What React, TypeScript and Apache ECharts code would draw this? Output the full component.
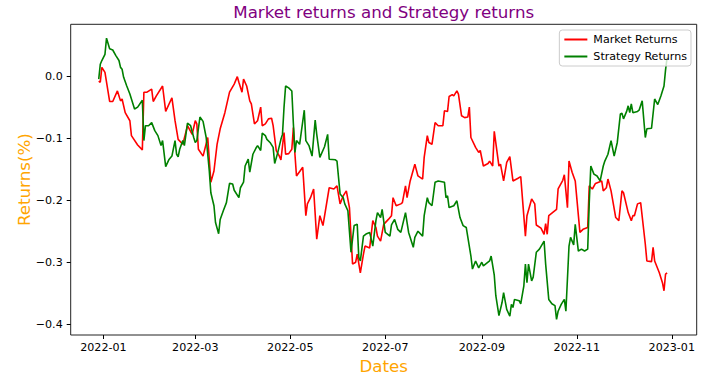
import React, { useEffect, useRef } from "react";
import * as echarts from "echarts";

const FONT = "DejaVu Sans";

const marketDates = [
  "2021-12-29","2021-12-30","2021-12-31","2022-01-02","2022-01-05","2022-01-07","2022-01-10","2022-01-12","2022-01-13","2022-01-15",
  "2022-01-18","2022-01-19","2022-01-23","2022-01-26","2022-01-27","2022-01-29","2022-02-01","2022-02-02","2022-02-04","2022-02-08",
  "2022-02-10","2022-02-14","2022-02-16","2022-02-18","2022-02-21","2022-02-24","2022-02-27","2022-03-01","2022-03-02","2022-03-03",
  "2022-03-06","2022-03-09","2022-03-11","2022-03-13","2022-03-15","2022-03-17","2022-03-20","2022-03-23","2022-03-26","2022-03-28",
  "2022-03-29","2022-03-31","2022-04-01","2022-04-03","2022-04-05","2022-04-06","2022-04-08","2022-04-10","2022-04-12","2022-04-13",
  "2022-04-15","2022-04-17","2022-04-19","2022-04-20","2022-04-22","2022-04-24","2022-04-25","2022-04-27","2022-04-28","2022-04-30",
  "2022-05-02","2022-05-03","2022-05-04","2022-05-05","2022-05-09","2022-05-11","2022-05-12","2022-05-14","2022-05-16","2022-05-18",
  "2022-05-20","2022-05-22","2022-05-26","2022-05-29","2022-05-31","2022-06-02","2022-06-04","2022-06-06","2022-06-08","2022-06-10",
  "2022-06-12","2022-06-13","2022-06-15","2022-06-17","2022-06-18","2022-06-21","2022-06-23","2022-06-25","2022-06-26","2022-06-28",
  "2022-06-30","2022-07-03","2022-07-05","2022-07-06","2022-07-08","2022-07-11","2022-07-12","2022-07-14","2022-07-15","2022-07-17",
  "2022-07-20","2022-07-22","2022-07-25","2022-07-26","2022-07-28","2022-07-29","2022-07-31","2022-08-02","2022-08-04","2022-08-07",
  "2022-08-08","2022-08-10","2022-08-11","2022-08-13","2022-08-14","2022-08-16","2022-08-17","2022-08-19","2022-08-21","2022-08-23",
  "2022-08-24","2022-08-25","2022-08-28","2022-08-30","2022-08-31","2022-09-02","2022-09-05","2022-09-06","2022-09-08","2022-09-09",
  "2022-09-12","2022-09-13","2022-09-15","2022-09-17","2022-09-19","2022-09-21","2022-09-24","2022-09-26","2022-09-29","2022-09-30",
  "2022-10-03","2022-10-05","2022-10-06","2022-10-09","2022-10-11","2022-10-12","2022-10-13","2022-10-14","2022-10-18","2022-10-19",
  "2022-10-20","2022-10-23","2022-10-24","2022-10-26","2022-10-27","2022-10-29","2022-10-31","2022-11-03","2022-11-05","2022-11-08",
  "2022-11-09","2022-11-11","2022-11-13","2022-11-15","2022-11-17","2022-11-18","2022-11-20","2022-11-21","2022-11-23","2022-11-26",
  "2022-11-28","2022-11-30","2022-12-01","2022-12-04","2022-12-06","2022-12-07","2022-12-08","2022-12-10","2022-12-12","2022-12-15",
  "2022-12-16","2022-12-19","2022-12-20","2022-12-21","2022-12-24","2022-12-26","2022-12-27","2022-12-28","2022-12-29",
];
const marketValues = [
  -0.008,-0.010,0.014,0.006,-0.041,-0.041,-0.024,-0.040,-0.037,-0.059,
  -0.072,-0.096,-0.111,-0.119,-0.026,-0.026,-0.021,-0.041,-0.032,-0.016,
  -0.057,-0.035,-0.072,-0.102,-0.110,-0.080,-0.094,-0.072,-0.077,-0.118,
  -0.129,-0.099,-0.171,-0.153,-0.110,-0.085,-0.059,-0.026,-0.013,-0.001,
  -0.010,-0.026,-0.005,-0.016,-0.040,-0.045,-0.077,-0.072,-0.050,-0.080,
  -0.077,-0.069,-0.068,-0.080,-0.120,-0.129,-0.135,-0.091,-0.126,-0.125,
  -0.118,-0.083,-0.126,-0.161,-0.147,-0.225,-0.206,-0.196,-0.182,-0.263,
  -0.225,-0.241,-0.180,-0.182,-0.177,-0.206,-0.193,-0.185,-0.212,-0.303,
  -0.300,-0.287,-0.317,-0.287,-0.274,-0.277,-0.233,-0.244,-0.258,-0.266,
  -0.239,-0.231,-0.225,-0.196,-0.209,-0.206,-0.204,-0.177,-0.196,-0.169,
  -0.142,-0.161,-0.166,-0.131,-0.096,-0.107,-0.110,-0.075,-0.080,-0.080,
  -0.056,-0.057,-0.033,-0.030,-0.032,-0.024,-0.029,-0.064,-0.067,-0.066,
  -0.050,-0.099,-0.115,-0.123,-0.120,-0.145,-0.141,-0.137,-0.145,-0.089,
  -0.145,-0.142,-0.169,-0.139,-0.130,-0.169,-0.165,-0.162,-0.258,-0.225,
  -0.198,-0.206,-0.240,-0.245,-0.255,-0.238,-0.255,-0.225,-0.217,-0.215,
  -0.182,-0.168,-0.159,-0.212,-0.137,-0.155,-0.169,-0.252,-0.247,-0.244,
  -0.177,-0.182,-0.173,-0.171,-0.169,-0.185,-0.180,-0.166,-0.185,-0.228,
  -0.233,-0.185,-0.188,-0.220,-0.233,-0.225,-0.225,-0.206,-0.204,-0.271,
  -0.298,-0.299,-0.276,-0.298,-0.317,-0.333,-0.346,-0.319,-0.317,
];

const strategyDates = [
  "2021-12-29","2021-12-30","2021-12-31","2022-01-02","2022-01-03","2022-01-05","2022-01-07","2022-01-09","2022-01-11","2022-01-12",
  "2022-01-13","2022-01-14","2022-01-16","2022-01-18","2022-01-21","2022-01-23","2022-01-26","2022-01-27","2022-01-28","2022-01-30",
  "2022-02-01","2022-02-03","2022-02-05","2022-02-07","2022-02-08","2022-02-10","2022-02-12","2022-02-14","2022-02-16","2022-02-17",
  "2022-02-18","2022-02-19","2022-02-21","2022-02-22","2022-02-24","2022-02-26","2022-02-28","2022-03-01","2022-03-02","2022-03-04",
  "2022-03-06","2022-03-08","2022-03-10","2022-03-11","2022-03-13","2022-03-14","2022-03-16","2022-03-17","2022-03-19","2022-03-21",
  "2022-03-23","2022-03-25","2022-03-26","2022-03-29","2022-03-30","2022-04-01","2022-04-02","2022-04-04","2022-04-05","2022-04-07",
  "2022-04-09","2022-04-10","2022-04-12","2022-04-13","2022-04-15","2022-04-16","2022-04-18","2022-04-20","2022-04-21","2022-04-23",
  "2022-04-25","2022-04-26","2022-04-27","2022-04-28","2022-04-30","2022-05-02","2022-05-03","2022-05-04","2022-05-05","2022-05-07",
  "2022-05-10","2022-05-11","2022-05-13","2022-05-15","2022-05-17","2022-05-18","2022-05-20","2022-05-23","2022-05-25","2022-05-26",
  "2022-05-30","2022-05-31","2022-06-02","2022-06-04","2022-06-05","2022-06-07","2022-06-09","2022-06-11","2022-06-13","2022-06-14",
  "2022-06-15","2022-06-17","2022-06-19","2022-06-21","2022-06-23","2022-06-25","2022-06-26","2022-06-28","2022-06-29","2022-07-01",
  "2022-07-04","2022-07-05","2022-07-07","2022-07-09","2022-07-11","2022-07-14","2022-07-16","2022-07-19","2022-07-20","2022-07-22",
  "2022-07-25","2022-07-26","2022-07-28","2022-07-29","2022-07-31","2022-08-02","2022-08-04","2022-08-08","2022-08-09","2022-08-10",
  "2022-08-11","2022-08-14","2022-08-16","2022-08-18","2022-08-20","2022-08-22","2022-08-25","2022-08-26","2022-08-28","2022-08-30",
  "2022-09-01","2022-09-02","2022-09-04","2022-09-06","2022-09-07","2022-09-09","2022-09-10","2022-09-12","2022-09-14","2022-09-15",
  "2022-09-17","2022-09-19","2022-09-20","2022-09-21","2022-09-22","2022-09-25","2022-09-26","2022-09-28","2022-09-29","2022-09-30",
  "2022-10-01","2022-10-03","2022-10-04","2022-10-06","2022-10-08","2022-10-11","2022-10-12","2022-10-14","2022-10-16","2022-10-18",
  "2022-10-19","2022-10-20","2022-10-22","2022-10-24","2022-10-25","2022-10-27","2022-10-28","2022-10-30","2022-10-31","2022-11-02",
  "2022-11-04","2022-11-06","2022-11-08","2022-11-09","2022-11-10","2022-11-12","2022-11-14","2022-11-16","2022-11-18","2022-11-19",
  "2022-11-21","2022-11-23","2022-11-25","2022-11-27","2022-11-29","2022-11-30","2022-12-01","2022-12-03","2022-12-04","2022-12-05",
  "2022-12-06","2022-12-07","2022-12-10","2022-12-11","2022-12-13","2022-12-15","2022-12-16","2022-12-19","2022-12-21","2022-12-23",
  "2022-12-25","2022-12-27","2022-12-28","2022-12-29",
];
const strategyValues = [
  -0.005,0.019,0.025,0.035,0.061,0.044,0.042,0.033,0.025,0.014,
  0.011,-0.002,-0.016,-0.029,-0.053,-0.050,-0.039,-0.104,-0.080,-0.080,
  -0.075,-0.088,-0.096,-0.112,-0.104,-0.146,-0.135,-0.129,-0.104,-0.126,
  -0.130,-0.118,-0.104,-0.112,-0.076,-0.080,-0.099,-0.107,-0.104,-0.066,
  -0.073,-0.099,-0.153,-0.188,-0.209,-0.236,-0.254,-0.231,-0.217,-0.204,
  -0.173,-0.174,-0.184,-0.196,-0.180,-0.171,-0.145,-0.134,-0.155,-0.126,
  -0.116,-0.112,-0.120,-0.092,-0.096,-0.102,-0.107,-0.115,-0.141,-0.123,
  -0.102,-0.094,-0.050,-0.016,-0.019,-0.024,-0.077,-0.123,-0.104,-0.110,
  -0.055,-0.104,-0.112,-0.129,-0.071,-0.094,-0.131,-0.114,-0.094,-0.134,
  -0.135,-0.137,-0.190,-0.196,-0.206,-0.217,-0.284,-0.241,-0.239,-0.292,
  -0.298,-0.258,-0.254,-0.252,-0.274,-0.233,-0.220,-0.228,-0.215,-0.252,
  -0.258,-0.240,-0.231,-0.247,-0.252,-0.220,-0.252,-0.276,-0.260,-0.250,
  -0.258,-0.225,-0.196,-0.204,-0.209,-0.171,-0.169,-0.171,-0.196,-0.193,
  -0.212,-0.209,-0.201,-0.228,-0.241,-0.244,-0.290,-0.311,-0.298,-0.309,
  -0.300,-0.306,-0.302,-0.298,-0.290,-0.321,-0.354,-0.386,-0.365,-0.349,
  -0.376,-0.387,-0.368,-0.373,-0.360,-0.362,-0.367,-0.338,-0.303,-0.333,
  -0.303,-0.330,-0.324,-0.284,-0.279,-0.266,-0.303,-0.360,-0.367,-0.370,
  -0.392,-0.379,-0.368,-0.360,-0.379,-0.274,-0.260,-0.272,-0.239,-0.282,
  -0.279,-0.282,-0.279,-0.204,-0.145,-0.158,-0.161,-0.169,-0.145,-0.137,
  -0.126,-0.104,-0.129,-0.107,-0.061,-0.060,-0.069,-0.057,-0.048,-0.059,
  -0.045,-0.059,-0.057,-0.055,-0.040,-0.099,-0.085,-0.084,-0.037,-0.046,
  -0.032,-0.016,0.010,0.030,
];

const xTickDates = ["2022-01-01", "2022-03-01", "2022-05-01", "2022-07-01", "2022-09-01", "2022-11-01", "2023-01-01"];
const yTickValues = [-0.4, -0.3, -0.2, -0.1, 0.0];
const xRange = ["2021-12-11", "2023-01-17"];

const toTime = (s: string) => {
  const [y, m, d] = s.split("-").map(Number);
  return new Date(y, m - 1, d).getTime();
};

export default function App() {
  const ref = useRef<HTMLDivElement>(null);

  useEffect(() => {
    if (!ref.current) return;
    const chart = echarts.init(ref.current, undefined, { renderer: "svg" });
    const xTicks = xTickDates.map(toTime);

    chart.setOption({
      animation: false,
      backgroundColor: "#ffffff",
      textStyle: { fontFamily: FONT },
      title: {
        text: "Market returns and Strategy returns",
        left: 383.7,
        top: 3,
        padding: 0,
        textAlign: "center",
        textStyle: { color: "#800080", fontSize: 16.7, fontWeight: "normal", fontFamily: FONT },
      },
      legend: {
        data: ["Market Returns", "Strategy Returns"],
        orient: "vertical",
        right: 29,
        top: 30,
        padding: [3, 4, 3, 4],
        itemGap: 4,
        itemWidth: 23,
        itemHeight: 13,
        borderColor: "#cccccc",
        borderWidth: 1,
        borderRadius: 3,
        backgroundColor: "rgba(255,255,255,0.8)",
        itemStyle: { color: "transparent", borderWidth: 0, opacity: 0 },
        textStyle: { color: "#000", fontSize: 11.1, fontFamily: FONT, lineHeight: 13, padding: [0, 0, 0, 1] },
      },
      grid: {
        left: 70.7,
        top: 24.3,
        width: 626,
        height: 310.7,
        show: true,
        borderColor: "#222",
        borderWidth: 1,
        backgroundColor: "transparent",
      },
      xAxis: {
        type: "value",
        min: toTime(xRange[0]),
        max: toTime(xRange[1]),
        axisLine: { show: false, onZero: false },
        splitLine: { show: false },
        axisTick: { show: true, length: 4, lineStyle: { color: "#000", width: 1 }, customValues: xTicks },
        axisLabel: {
          customValues: xTicks,
          color: "#000",
          fontSize: 11.1,
          fontFamily: FONT,
          margin: 7,
          formatter: (v: number) => {
            const d = new Date(v);
            return `${d.getFullYear()}-${String(d.getMonth() + 1).padStart(2, "0")}`;
          },
        },
        name: "Dates",
        nameLocation: "middle",
        nameGap: 22,
        nameTextStyle: { color: "#FFA500", fontSize: 16.7, fontFamily: FONT },
      },
      yAxis: {
        type: "value",
        min: -0.4173,
        max: 0.0834,
        axisLine: { show: false, onZero: false },
        splitLine: { show: false },
        axisTick: { show: true, length: 4, lineStyle: { color: "#000", width: 1 }, customValues: yTickValues },
        axisLabel: {
          customValues: yTickValues,
          color: "#000",
          fontSize: 11.1,
          fontFamily: FONT,
          margin: 8,
          formatter: (v: number) => (v < -1e-9 ? "\u2212" : "") + Math.abs(v).toFixed(1),
        },
        name: "Returns(%)",
        nameLocation: "middle",
        nameRotate: 90,
        nameGap: 38,
        nameMoveOverlap: false,
        nameTextStyle: { color: "#FFA500", fontSize: 16.7, fontFamily: FONT },
      },
      series: [
        {
          name: "Market Returns",
          type: "line",
          symbol: "none",
          color: "#ff0000",
          lineStyle: { color: "#ff0000", width: 1.6 },
          data: marketDates.map((d, i) => [toTime(d), marketValues[i]]),
        },
        {
          name: "Strategy Returns",
          type: "line",
          symbol: "none",
          color: "#008000",
          lineStyle: { color: "#008000", width: 1.6 },
          data: strategyDates.map((d, i) => [toTime(d), strategyValues[i]]),
        },
      ],
    });

    return () => chart.dispose();
  }, []);

  return (
    <div
      ref={ref}
      style={{ position: "fixed", left: 0, top: 0, width: 720, height: 380, background: "#fff" }}
    />
  );
}
